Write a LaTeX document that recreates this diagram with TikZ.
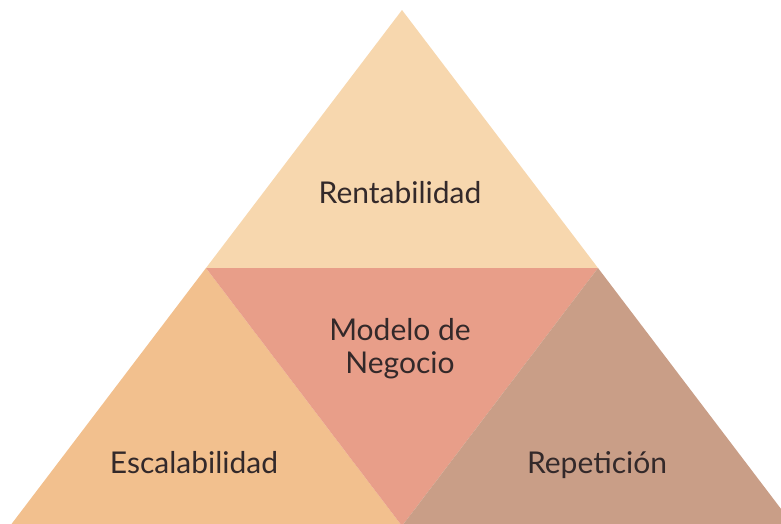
\documentclass[tikz,border=0pt]{standalone}
\usepackage{fontspec}
\setmainfont{Lato}
\definecolor{topc}{HTML}{F7D7AE}
\definecolor{leftc}{HTML}{F2C08E}
\definecolor{midc}{HTML}{E89E89}
\definecolor{rightc}{HTML}{C99E87}
\definecolor{txt}{HTML}{33292A}
\begin{document}
\begin{tikzpicture}[x=1pt,y=-1pt,
  lbl/.style={anchor=base,text=txt,font=\fontsize{30}{38}\selectfont,align=center}]
\useasboundingbox (0,0) rectangle (781,523);
\clip (0,0) rectangle (781,523);
\coordinate (A) at (402,10);
\coordinate (L) at (10,526);
\coordinate (R) at (794,526);
\coordinate (ML) at (206,268);
\coordinate (MR) at (598,268);
\coordinate (MB) at (402,526);
\fill[topc] (A) -- (ML) -- (MR) -- cycle;
\fill[leftc] (ML) -- (L) -- (MB) -- cycle;
\fill[midc] (ML) -- (MR) -- (MB) -- cycle;
\fill[rightc] (MR) -- (MB) -- (R) -- cycle;
\node[lbl] (t) at (400,203) {Rentabilidad};
\node[lbl] (m1) at (400,340) {Modelo de};
\node[lbl] (m2) at (400,373) {Negocio};
\node[lbl] (l) at (194,473) {Escalabilidad};
\node[lbl] (r) at (597,473) {Repetición};
\end{tikzpicture}
\end{document}
